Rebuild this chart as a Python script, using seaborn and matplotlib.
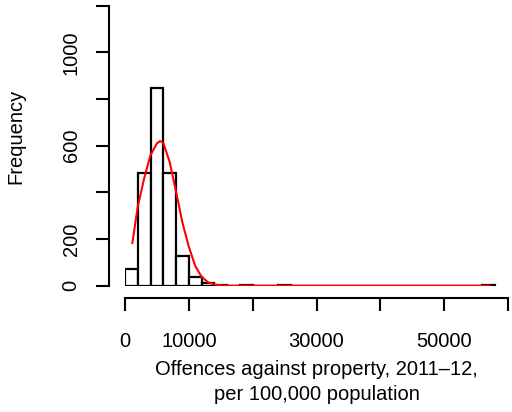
import matplotlib
matplotlib.use("Agg")
import matplotlib.pyplot as plt
import seaborn as sns

# histogram bins (width 2000) and counts
bin_edges = list(range(0, 60000, 2000))
bin_counts = [70, 483, 848, 483, 126, 38, 12, 3, 0, 4,
              0, 0, 3, 0, 0, 0, 0, 0, 0, 0,
              0, 0, 0, 0, 0, 0, 0, 0, 1]

# fitted density curve (scaled to frequency)
curve_x = [1146, 2000, 3000, 4000, 5000, 5500, 6000, 7000, 8000, 9000,
           10000, 11000, 12000, 13000, 14000, 15000, 16000, 20000, 57200]
curve_y = [182, 339, 460, 560, 610, 620, 612, 530, 403, 270,
           167, 85, 38, 15, 5, 2, 0, 0, 0]

x_ticks = [0, 10000, 20000, 30000, 40000, 50000, 60000]
x_ticklabels = ["0", "10000", "", "30000", "", "50000", ""]
y_ticks = [0, 200, 400, 600, 800, 1000, 1200]
y_ticklabels = ["0", "200", "", "600", "", "1000", ""]

sns.set_style("white")
plt.rcParams["font.family"] = ["Liberation Sans", "DejaVu Sans"]
plt.rcParams["text.color"] = "black"
plt.rcParams["axes.labelcolor"] = "black"
plt.rcParams["xtick.color"] = "black"
plt.rcParams["ytick.color"] = "black"

fig = plt.figure(figsize=(5.12, 4.12), dpi=100)
ax = fig.add_axes([125 / 512, 1 - 285.7 / 412, 383 / 512, 280 / 412])

centers = [e + 1000 for e in bin_edges[:len(bin_counts)]]
sns.histplot(x=centers, weights=bin_counts, bins=bin_edges[:len(bin_counts) + 1],
             color="white", edgecolor="black", linewidth=1.6, alpha=1, ax=ax)
sns.lineplot(x=curve_x, y=curve_y, color="red", linewidth=1.5, ax=ax)

ax.set_xlim(0, 60000)
ax.set_ylim(0, 1200)
for s in ["top", "right"]:
    ax.spines[s].set_visible(False)
ax.spines["left"].set_position(("outward", 11.5))
ax.spines["bottom"].set_position(("outward", 9))
ax.spines["left"].set_bounds(0, 1200)
ax.spines["bottom"].set_bounds(0, 60000)
for s in ["left", "bottom"]:
    ax.spines[s].set_linewidth(1.5)
    ax.spines[s].set_color("black")

fs = 14.5
ax.set_xticks(x_ticks)
ax.set_xticklabels(x_ticklabels, fontsize=fs)
ax.set_yticks(y_ticks)
ax.set_yticklabels(y_ticklabels, fontsize=fs, rotation=90, va="center")
ax.tick_params(axis="both", direction="out", length=9.5, width=1.5,
               color="black", bottom=True, left=True)
ax.tick_params(axis="x", pad=14.5)
ax.tick_params(axis="y", pad=11)

ax.set_xlabel("Offences against property, 2011\u201212,\nper 100,000 population",
              fontsize=fs, linespacing=1.4)
ax.set_ylabel("Frequency", fontsize=fs)
ax.xaxis.set_label_coords(0.5, -0.265)
ax.yaxis.set_label_coords(-0.261, 0.533)

fig.savefig("out.png", dpi=100)
